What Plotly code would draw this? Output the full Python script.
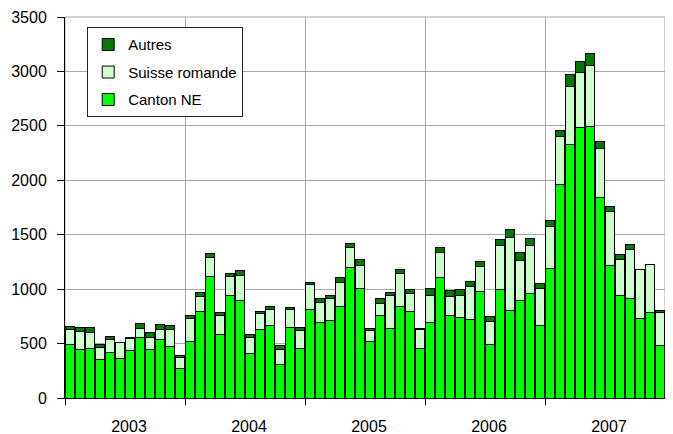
import plotly.graph_objects as go

# Monthly values 2003-2007
years = ['2003', '2004', '2005', '2006', '2007']
months = [f'{y}-{m:02d}' for y in years for m in range(1, 13)]

canton_ne = [490, 450, 458, 350, 420, 360, 436, 555, 449, 540, 476, 275,
             521, 797, 1113, 582, 940, 895, 410, 628, 670, 309, 646, 455,
             811, 695, 710, 840, 1201, 1006, 521, 760, 642, 840, 792, 452,
             692, 1111, 754, 741, 717, 979, 490, 998, 802, 900, 964, 665,
             1192, 1959, 2327, 2487, 2493, 1846, 1213, 946, 915, 731, 783, 479]
suisse_romande = [140, 160, 147, 117, 113, 150, 113, 83, 110, 92, 150, 94,
                  207, 137, 176, 173, 173, 227, 145, 145, 143, 137, 164, 167,
                  233, 179, 206, 225, 185, 210, 100, 110, 298, 303, 169, 175,
                  254, 222, 176, 199, 311, 232, 211, 405, 672, 366, 433, 342,
                  383, 439, 532, 506, 562, 442, 500, 322, 452, 452, 439, 308]
autres = [30, 37, 39, 27, 30, 4, 3, 42, 45, 39, 42, 21,
          27, 31, 36, 28, 34, 52, 27, 24, 24, 36, 18, 30,
          18, 39, 22, 42, 30, 54, 16, 40, 30, 34, 36, 14,
          61, 50, 55, 58, 46, 43, 46, 55, 74, 67, 65, 46,
          55, 58, 113, 99, 108, 64, 50, 46, 46, 0, 0, 18]

x = list(range(len(months)))
# year labels sit slightly right of the middle of each year
year_centers = [i * 12 + 5.9 for i in range(len(years))]

fig = go.Figure()
line = dict(color='#000000', width=1)
fig.add_trace(go.Bar(x=x, y=canton_ne, name='Canton NE',
                     legendgroup='c', legendrank=3,
                     marker=dict(color='#00FF00', line=line)))
fig.add_trace(go.Bar(x=x, y=suisse_romande, name='Suisse romande',
                     legendgroup='s', legendrank=2,
                     marker=dict(color='#CCFFCC', line=line)))
fig.add_trace(go.Bar(x=x, y=autres, name='Autres',
                     legendgroup='a', legendrank=1,
                     marker=dict(color='#007A00', line=line)))

# the page body has an 8px margin, so the figure is a bit smaller
fig.update_layout(
    barmode='stack',
    bargap=0.15,
    width=665, height=426,
    margin=dict(l=57, r=8, t=9, b=36),
    plot_bgcolor='white',
    paper_bgcolor='white',
    font=dict(family='Liberation Sans, Arial, sans-serif', size=16, color='black'),
    showlegend=True,
    legend=dict(x=0.037, y=0.973, xanchor='left', yanchor='top',
                traceorder='grouped', tracegroupgap=5,
                bgcolor='white', bordercolor='#222222', borderwidth=1,
                font=dict(size=15)),
    xaxis=dict(range=[-0.5, 59.5], tickvals=year_centers, ticktext=years,
               ticks='outside', ticklen=14, tickcolor='rgba(0,0,0,0)',
               showgrid=False, showline=True, linecolor='black', linewidth=1,
               zeroline=False, automargin=False,
               minor=dict(tick0=-0.5, dtick=12, ticks='outside', ticklen=6,
                          tickcolor='black', showgrid=True,
                          gridcolor='#A8A8A8', gridwidth=1)),
    yaxis=dict(range=[0, 3500], dtick=500, ticks='outside', ticklen=7,
               tickcolor='black', ticklabelstandoff=7, showline=True,
               linecolor='black', linewidth=1, gridcolor='#A8A8A8',
               gridwidth=1, zeroline=False, automargin=False),
)

# grey frame on top and right of the plot area
fig.add_shape(type='rect', xref='paper', yref='paper', x0=0, y0=0, x1=1, y1=1,
              line=dict(color='#A8A8A8', width=1), layer='below')

fig.write_html('out.html')
